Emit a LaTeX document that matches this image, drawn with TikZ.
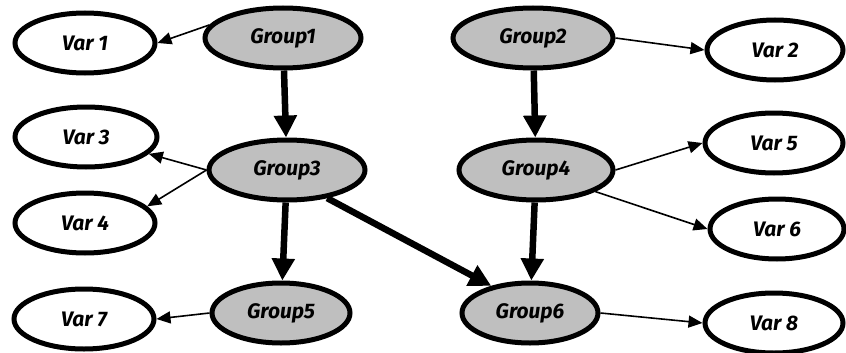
\documentclass[tikz,border=0pt]{standalone}
\usepackage{fontspec}
\setmainfont{Fira Sans}
\usetikzlibrary{shapes.geometric,arrows.meta}
\begin{document}
\begin{tikzpicture}[x=1pt,y=-1pt,
  every node/.style={font=\fontsize{21}{24}\selectfont\bfseries\itshape},
  oval/.style={ellipse,draw=black,line width=5pt,inner sep=0pt,
    minimum width=#1,minimum height=60pt},
  grp/.style={oval=#1,fill=black!25},
  var/.style={oval=#1,fill=white},
  thin/.style={line width=1.6pt,-{Triangle[length=14pt,width=12pt]}},
  thick/.style={line width=6.5pt,-{Triangle[length=22pt,width=22pt]}}]
\useasboundingbox (0,0) rectangle (846,353);
% group nodes
\node[grp=156pt] (g1) at (283,38) {Group1};
\node[grp=160pt] (g2) at (533,38) {Group2};
\node[grp=156pt] (g3) at (287,170) {Group3};
\node[grp=154pt] (g4) at (536,170) {Group4};
\node[grp=138pt] (g5) at (281,313) {Group5};
\node[grp=136pt] (g6) at (530,313) {Group6};
% variable nodes
\node[var=140pt] (v1) at (85,43) {Var 1};
\node[var=136pt] (v2) at (775,50) {Var 2};
\node[var=142pt] (v3) at (86,137) {Var 3};
\node[var=140pt] (v4) at (85,223) {Var 4};
\node[var=138pt] (v5) at (774,143) {Var 5};
\node[var=134pt] (v6) at (777,229) {Var 6};
\node[var=140pt] (v7) at (84,319) {Var 7};
\node[var=138pt] (v8) at (774,323) {Var 8};
% strong links between groups
\draw[thick] (g1) -- (g3);
\draw[thick] (g3) -- (g5);
\draw[thick] (g2) -- (g4);
\draw[thick] (g4) -- (g6);
\draw[thick] (g3.-35) -- (g6.145);
% links to variables
\draw[thin] (g1.170) -- (v1.east);
\draw[thin] (g3.west) -- (v3.-15);
\draw[thin] (g3.west) -- (v4.15);
\draw[thin] (g5.west) -- (v7.east);
\draw[thin] (g2.east) -- (v2.west);
\draw[thin] (g4.east) -- (v5.west);
\draw[thin] (g4.-20) -- (v6.west);
\draw[thin] (g6.east) -- (v8.west);
\end{tikzpicture}
\end{document}
